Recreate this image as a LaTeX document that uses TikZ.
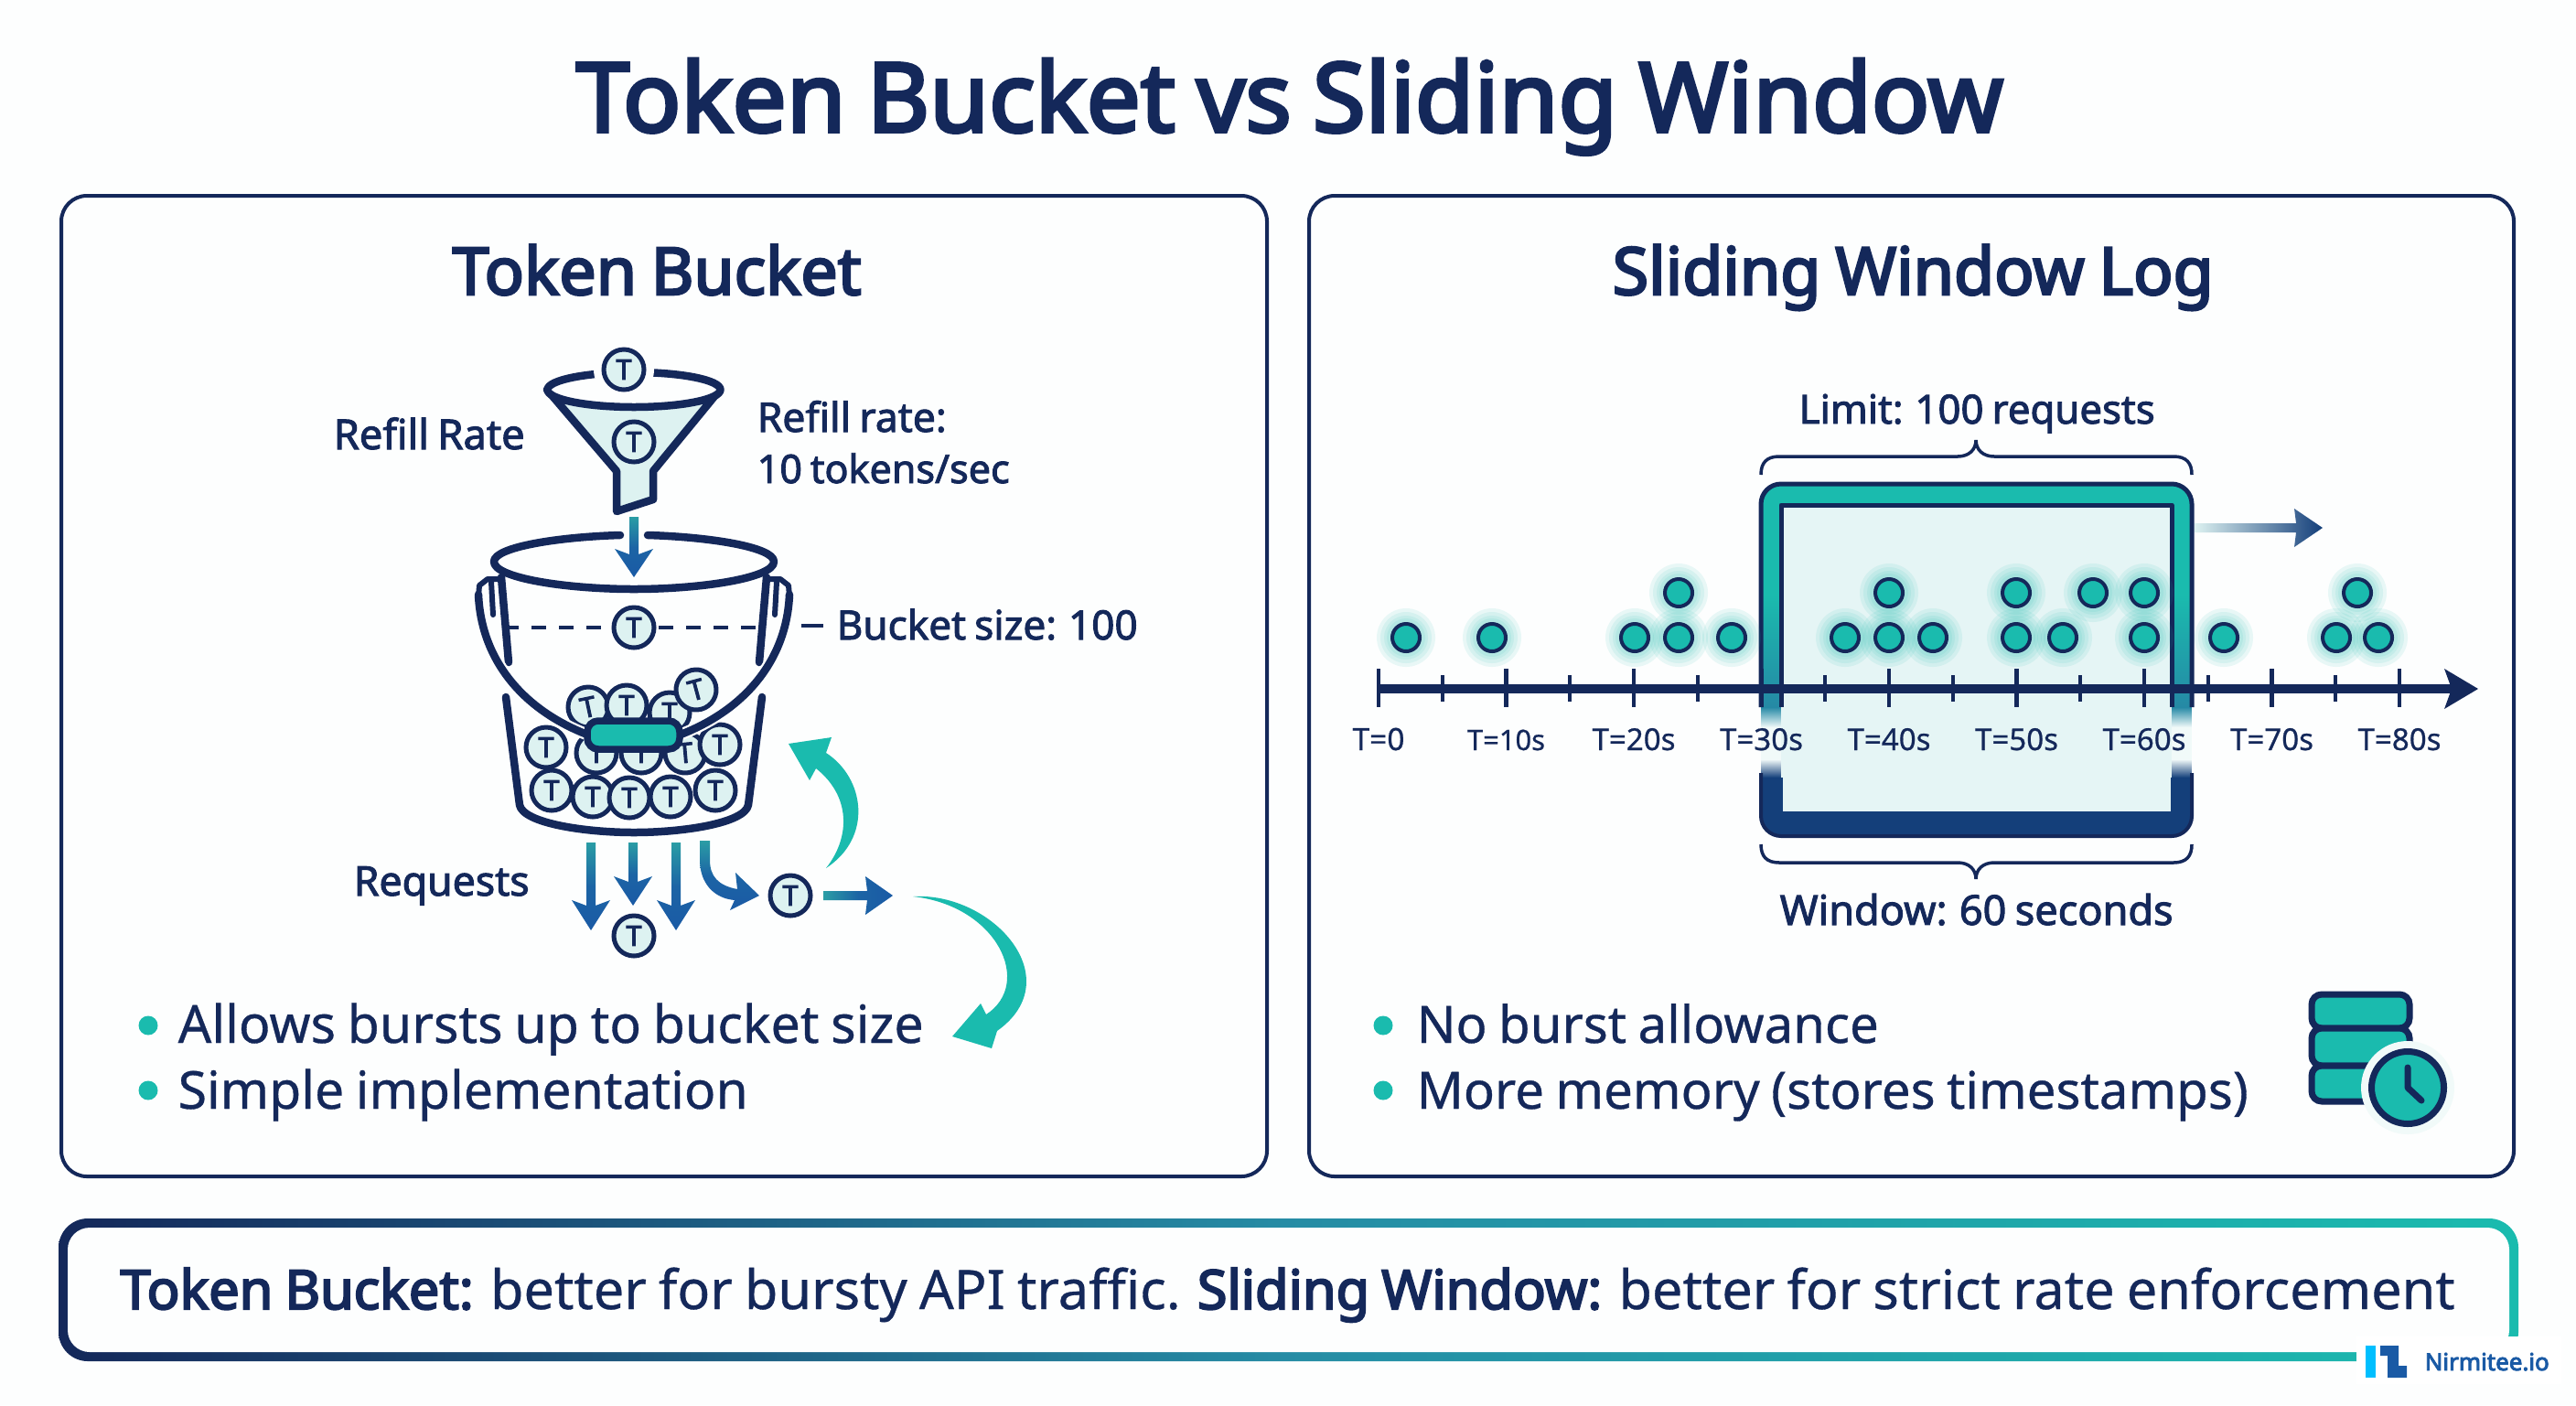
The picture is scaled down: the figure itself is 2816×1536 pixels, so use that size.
\documentclass[tikz,border=0pt]{standalone}
\usepackage{graphicx}
\usepackage{fontspec}
\setmainfont[FakeBold=0.6,WordSpace=0.85]{Noto Sans}
\newfontfamily\lab[FakeBold=2.2,WordSpace=0.8]{Noto Sans}
\newfontfamily\hb[FakeBold=3.6,WordSpace=0.85]{Noto Sans}
\newlength\pxu \setlength\pxu{0.01cm}
\definecolor{navy}{HTML}{14285A}
\definecolor{teal2}{HTML}{1ABBAE}
\definecolor{lite}{HTML}{DDF2F1}
\definecolor{blu}{HTML}{1A5AA5}
\definecolor{arrtop}{HTML}{2A9DA5}
\definecolor{bgc}{HTML}{FDFEFE}
\definecolor{winbot}{HTML}{143F7A}
\definecolor{cy}{HTML}{00BFFF}
\newcommand\txt[5]{\node[anchor=base west,inner sep=0pt,text=navy] (#1) at (#2,#3) {\resizebox{#4\pxu}{!}{\fontsize{20pt}{24pt}\selectfont #5}};}
\newcommand\dnarrow[4]{\shade[top color=arrtop,bottom color=blu,middle color=blu!85!arrtop] (#1-5,#2) -- (#1+5,#2) -- (#1+5,#3) -- (#1+21,#3-6) -- (#1,#4) -- (#1-21,#3-6) -- (#1-5,#3) -- cycle;}
\tikzset{
 tok/.style={circle,draw=navy,fill=lite,line width=5\pxu,minimum size=44\pxu,inner sep=0pt,text=navy,font=\fontsize{8.6pt}{9pt}\selectfont\hb},
 dot/.style={circle,draw=navy,fill=teal2,line width=4\pxu,minimum size=30\pxu,inner sep=0pt},
 bul/.style={circle,fill=teal2,minimum size=21\pxu,inner sep=0pt},
 panel/.style={draw=navy,line width=4\pxu,rounded corners=28\pxu,fill=bgc},
 thick navy/.style={draw=navy,line width=8.5\pxu,line cap=round,line join=round},
}
\begin{document}
\begin{tikzpicture}[x=0.01cm,y=-0.01cm]
\useasboundingbox (0,0) rectangle (2816,1536);
\fill[bgc] (0,0) rectangle (2816,1536);
% title
\txt{title}{629}{144}{1560}{\hb Token Bucket vs Sliding Window}
% panels
\draw[panel] (67,214) rectangle (1385,1286);
\draw[panel] (1431,214) rectangle (2748,1286);
\txt{hl}{494}{322}{447}{\hb Token Bucket}
\txt{hr}{1762}{322}{657}{\hb Sliding Window Log}
% funnel
\filldraw[fill=lite,thick navy] (598,426) -- (674,515) -- (674,559) -- (714,546) -- (714,515) -- (787,426) -- cycle;
\filldraw[fill=bgc,thick navy] (693,426) ellipse[x radius=94.5,y radius=19];
\fill[bgc] (682,404) circle (33);
\node[tok] (ft) at (682,404) {T};
\node[tok] (fi) at (693,483) {T};
\dnarrow{693}{565}{606}{631}
% bucket upper
\draw[thick navy] (548,631) -- (556,724);
\draw[thick navy] (838,631) -- (830,724);
\draw[thick navy] (553,762) -- (568,880) .. controls (572,900) and (640,910) .. (693,910) .. controls (746,910) and (814,900) .. (818,880) -- (833,762);
\draw[thick navy] (678,585) .. controls (610,587) and (540,598) .. (540,614) .. controls (540,632) and (620,644) .. (693,644) .. controls (766,644) and (846,632) .. (846,614) .. controls (846,598) and (776,587) .. (708,585);
% tokens
\node[tok,rotate=12] (t31) at (643,773) {T};
\node[tok] (t32) at (685,771) {T};
\node[tok] (t33) at (732,779) {T};
\node[tok,rotate=15] (t34) at (761,754) {T};
\node[tok] (t21) at (597,817) {T};
\node[tok] (t22) at (652,823) {T};
\node[tok] (t23) at (701,823) {T};
\node[tok,rotate=5] (t24) at (749,823) {T};
\node[tok] (t25) at (787,814) {T};
\node[tok] (t11) at (603,864) {T};
\node[tok] (t12) at (648,871) {T};
\node[tok] (t13) at (688,872) {T};
\node[tok] (t14) at (733,871) {T};
\node[tok] (t15) at (782,864) {T};
% dashed level
\draw[navy,line width=3.5\pxu,dash pattern=on 16\pxu off 14\pxu] (551,686) -- (668,686);
\draw[navy,line width=3.5\pxu,dash pattern=on 16\pxu off 14\pxu] (720,686) -- (833,686);
\node[tok] (tl) at (693,686) {T};
\draw[navy,line width=3.5\pxu] (876,684) -- (900,684);
% handle
\draw[bgc,line width=13\pxu] (523,650) .. controls (526,720) and (570,775) .. (642,803);
\draw[bgc,line width=13\pxu] (863,650) .. controls (860,720) and (816,775) .. (744,803);
\draw[thick navy] (523,650) .. controls (526,720) and (570,775) .. (642,803);
\draw[thick navy] (863,650) .. controls (860,720) and (816,775) .. (744,803);
\draw[navy,line width=6\pxu,line join=round] (546,633) -- (533,633) -- (524,640) -- (523,652);
\draw[navy,line width=6\pxu,line cap=round] (537,636) -- (539,672);
\draw[navy,line width=6\pxu,line join=round] (840,633) -- (853,633) -- (862,640) -- (863,652);
\draw[navy,line width=6\pxu,line cap=round] (849,636) -- (847,672);
\draw[fill=teal2,draw=navy,line width=7.5\pxu,rounded corners=12\pxu] (642,788) rectangle (743,819);
% bucket labels
\txt{lrr}{364}{491}{209}{\lab Refill Rate}
\txt{lr1}{827}{472}{207}{\lab Refill rate:}
\txt{lr2}{827}{528}{276}{\lab 10 tokens/sec}
\txt{lbs}{914}{699}{329}{\lab Bucket size: 100}
\txt{lrq}{386}{979}{192}{\lab Requests}
% request arrows
\dnarrow{646}{921}{990}{1017}
\dnarrow{692}{921}{964}{990}
\dnarrow{739}{921}{990}{1017}
\shade[top color=arrtop,bottom color=blu,middle color=blu!85!arrtop] (765,919) -- (776,919) -- (776,940) .. controls (776,958) and (785,968) .. (806,972) -- (804,954) -- (830,979) -- (798,995) -- (803,984) .. controls (780,982) and (765,965) .. (765,940) -- cycle;
\node[tok] (ra) at (693,1023) {T};
\node[tok] (rb) at (864,979) {T};
\shade[left color=arrtop,right color=blu,middle color=blu!85!arrtop] (900,974) -- (948,974) -- (946,958) -- (976,979) -- (946,1000) -- (948,984) -- (900,984) -- cycle;
% teal curved arrows
\fill[teal2] (862,813) -- (909,806) -- (903,823) .. controls (945,850) and (955,915) .. (903,949) .. controls (930,915) and (930,870) .. (892,840) -- (885,853) -- cycle;
\fill[teal2] (1041,1133) -- (1072,1097) -- (1078,1109) .. controls (1130,1075) and (1090,990) .. (998,980) .. controls (1085,975) and (1170,1070) .. (1090,1127) -- (1084,1146) -- cycle;
% left bullets
\node[bul] (b1) at (162,1121) {};
\node[bul] (b2) at (162,1192) {};
\txt{t1}{194}{1140}{815}{Allows bursts up to bucket size}
\txt{t2}{194}{1212}{623}{Simple implementation}
% window
\begin{scope}
\clip[rounded corners=22\pxu] (1925,529) rectangle (2396,914);
\fill[teal2] (1925,529) rectangle (2396,650);
\shade[top color=teal2,bottom color=arrtop!70!blu] (1925,650) rectangle (2396,773);
\shade[top color=arrtop!70!blu,bottom color=lite!40!white] (1925,773) rectangle (2396,795);
\fill[lite!40!white] (1925,795) rectangle (2396,830);
\shade[top color=lite!40!white,bottom color=winbot] (1925,830) rectangle (2396,850);
\fill[winbot] (1925,850) rectangle (2396,914);
\end{scope}
\fill[lite!75!white] (1947,552) rectangle (2374,888);
\draw[navy,line width=5\pxu,line join=round] (1947,773) -- (1947,552) -- (2374,552) -- (2374,773);
\draw[navy,line width=5\pxu,rounded corners=22\pxu] (1925,773) -- (1925,529) -- (2396,529) -- (2396,773);
\draw[navy,line width=4\pxu,rounded corners=22\pxu] (1925,845) -- (1925,914) -- (2396,914) -- (2396,845);
\draw[winbot,line width=3\pxu] (1947,850) -- (1947,888) -- (2374,888) -- (2374,850);
% window arrow
\shade[left color=lite,right color=winbot] (2399,572) -- (2510,572) -- (2508,556) -- (2539,577) -- (2508,598) -- (2510,582) -- (2399,582) -- cycle;
% braces
\draw[navy,line width=3.5\pxu] (1925,519) .. controls (1925,506) and (1931,499) .. (1945,499) -- (2140,499) .. controls (2152,499) and (2160,492) .. (2160,481) .. controls (2160,492) and (2168,499) .. (2180,499) -- (2376,499) .. controls (2390,499) and (2396,506) .. (2396,519);
\draw[navy,line width=3.5\pxu] (1925,923) .. controls (1925,936) and (1931,943) .. (1945,943) -- (2140,943) .. controls (2152,943) and (2160,950) .. (2160,961) .. controls (2160,950) and (2168,943) .. (2180,943) -- (2376,943) .. controls (2390,943) and (2396,936) .. (2396,923);
\txt{ll}{1966}{463}{389}{\lab Limit: 100 requests}
\txt{lw}{1945}{1011}{430}{\lab Window: 60 seconds}
% axis
\coordinate (a0) at (1507,753);
\coordinate (a1) at (2680,753);
\draw[navy,line width=10\pxu] (a0) -- (a1);
\fill[navy] (2709,753) -- (2672,731) -- (2680,753) -- (2672,775) -- cycle;
\foreach \x/\l/\w in {1507/T=0/57,1646.5/T=10s/85,1786/T=20s/91,1925.5/T=30s/91,2065/T=40s/91,2204.5/T=50s/91,2344/T=60s/91,2483.5/T=70s/91,2623/T=80s/91}{
  \draw[navy,line width=4.5\pxu] (\x,731) -- (\x,773);
  \node[anchor=base,inner sep=0pt,text=navy] at (\x,820) {\resizebox{\w\pxu}{!}{\fontsize{20pt}{24pt}\selectfont \l}};
}
\foreach \x in {1577,1716,1856,1995,2135,2274,2414,2553}{
  \draw[navy,line width=3.5\pxu] (\x,738) -- (\x,767);
}
% dots
\foreach \x/\y in {1537/697,1631/697,1787/697,1835/697,1893/697,2017/697,2065/697,2113/697,2204/697,2255/697,2344/697,2431/697,2554/697,2600/697,1835/648,2065/648,2204/648,2288/648,2344/648,2577/648}{
  \foreach \r in {32,28,24,21}{\fill[teal2,opacity=0.09] (\x,\y) circle (\r);}
}
\foreach \x/\y [count=\i] in {1537/697,1631/697,1787/697,1835/697,1893/697,2017/697,2065/697,2113/697,2204/697,2255/697,2344/697,2431/697,2554/697,2600/697,1835/648,2065/648,2204/648,2288/648,2344/648,2577/648}{
  \node[dot] (d\i) at (\x,\y) {};
}
% right bullets
\node[bul] (b3) at (1512,1121) {};
\node[bul] (b4) at (1512,1192) {};
\txt{t3}{1548}{1140}{505}{No burst allowance}
\txt{t4}{1548}{1212}{909}{More memory (stores timestamps)}
% db icon
\foreach \a/\b in {1087/1124,1124/1165,1165/1204}{
  \draw[fill=teal2,draw=navy,line width=7\pxu,rounded corners=11\pxu] (2527,\a) rectangle (2634,\b);
}
\fill[lite!40!white] (2632,1189) circle (51);
\draw[fill=teal2,draw=navy,line width=7\pxu] (2632,1189) circle (39.5);
\draw[navy,line width=7\pxu,line cap=round,line join=round] (2632,1167) -- (2632,1189) -- (2647,1203);
% bottom band
\shade[left color=navy,right color=teal2,middle color=arrtop!75!blu,rounded corners=32\pxu] (64,1332) rectangle (2753,1488);
\fill[bgc,rounded corners=24\pxu] (74,1342) rectangle (2743,1478);
\txt{sum}{131}{1431}{2552}{{\hb Token Bucket:} better for bursty API traffic. {\hb Sliding Window:} better for strict rate enforcement}
% logo
\fill[white] (2576,1461) rectangle (2800,1513);
\fill[cy] (2586,1471) rectangle (2597,1506);
\fill[blu] (2602,1471) -- (2622,1471) -- (2622,1493) -- (2631,1493) -- (2631,1506) -- (2610,1506) -- (2610,1482) -- (2602,1482) -- cycle;
\node[anchor=base west,inner sep=0pt,text=blu] (logo) at (2650,1498) {\resizebox{136\pxu}{!}{\fontsize{20pt}{24pt}\selectfont\hb Nirmitee.io}};
\end{tikzpicture}
\end{document}
